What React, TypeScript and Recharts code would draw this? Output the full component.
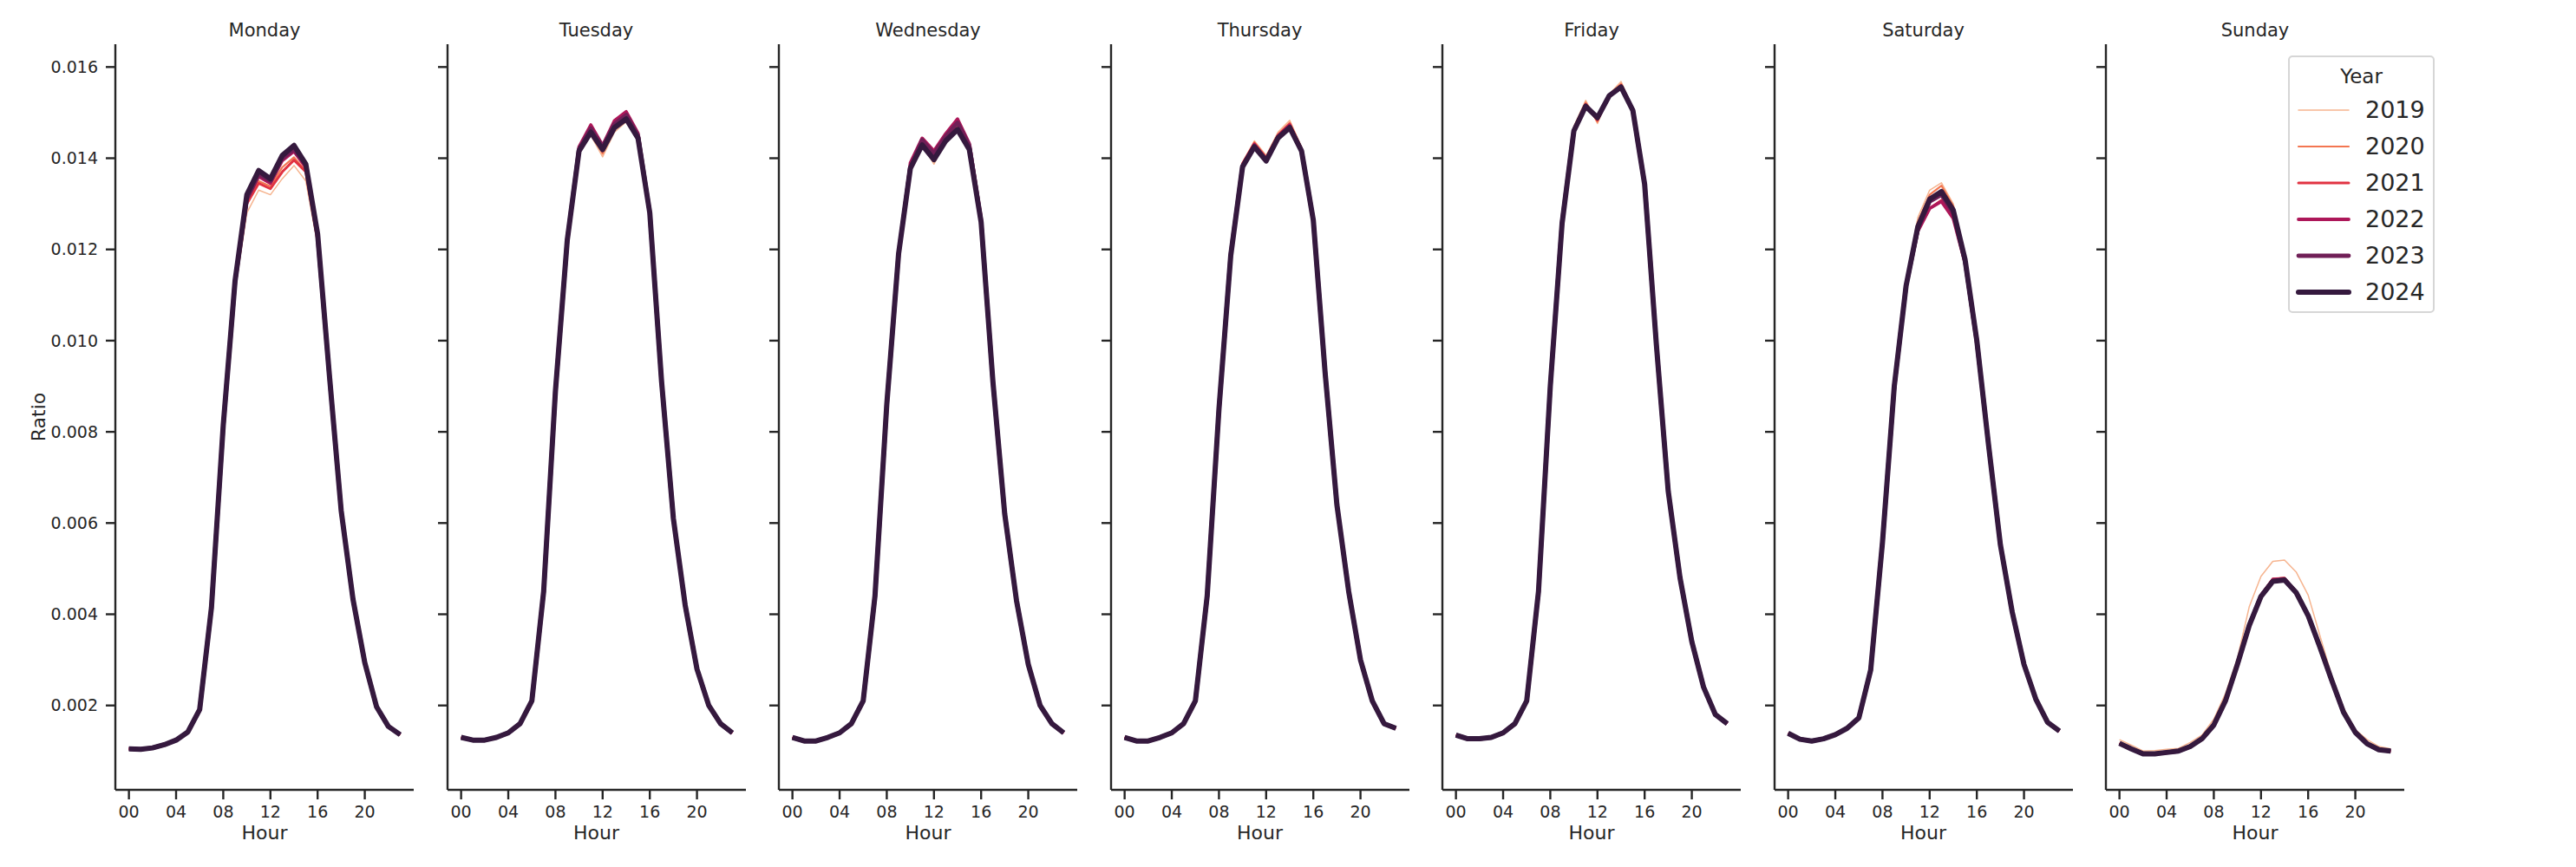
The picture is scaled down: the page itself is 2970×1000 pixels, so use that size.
import { LineChart, Line, XAxis, YAxis } from "recharts"

const YEARS = [2019, 2020, 2021, 2022, 2023, 2024]
const COLORS = ["#f6b48f", "#f37651", "#e13342", "#ad1759", "#701f57", "#35193e"]
const WIDTHS = [1.5, 2.2, 3, 3.8, 4.8, 6]
const DAYS = ["Monday", "Tuesday", "Wednesday", "Thursday", "Friday", "Saturday", "Sunday"]
const HOURS = [0, 1, 2, 3, 4, 5, 6, 7, 8, 9, 10, 11, 12, 13, 14, 15, 16, 17, 18, 19, 20, 21, 22, 23]
const X_TICKS = [0, 4, 8, 12, 16, 20]
const Y_TICKS = [0.002, 0.004, 0.006, 0.008, 0.01, 0.012, 0.014, 0.016]

// one row per year (2019 .. 2024), 24 hourly ratios each
const monday = [
  [0.00105, 0.00104, 0.00107, 0.00114, 0.00124, 0.00142, 0.00189, 0.0041, 0.008, 0.0111, 0.0128, 0.0133, 0.0132, 0.01355, 0.01384, 0.0135, 0.0121, 0.0091, 0.0062, 0.0043, 0.00292, 0.00196, 0.00153, 0.00135],
  [0.00105, 0.00104, 0.00107, 0.00114, 0.00124, 0.00142, 0.0019, 0.00412, 0.0081, 0.0112, 0.01302, 0.0135, 0.01338, 0.0138, 0.01402, 0.01372, 0.0122, 0.0092, 0.00624, 0.00432, 0.00293, 0.00197, 0.00154, 0.00136],
  [0.00105, 0.00104, 0.00107, 0.00114, 0.00124, 0.00142, 0.0019, 0.00412, 0.0081, 0.0112, 0.013, 0.01345, 0.01333, 0.0137, 0.01396, 0.0137, 0.0122, 0.0092, 0.00624, 0.00432, 0.00293, 0.00197, 0.00154, 0.00136],
  [0.00105, 0.00104, 0.00107, 0.00114, 0.00124, 0.00142, 0.00191, 0.00414, 0.00813, 0.0113, 0.0131, 0.0136, 0.01345, 0.01395, 0.01415, 0.0138, 0.0123, 0.00922, 0.00626, 0.00433, 0.00294, 0.00197, 0.00154, 0.00136],
  [0.00105, 0.00104, 0.00107, 0.00114, 0.00124, 0.00142, 0.00191, 0.00415, 0.00814, 0.0113, 0.0131, 0.01365, 0.0135, 0.014, 0.0142, 0.01385, 0.0123, 0.00923, 0.00627, 0.00433, 0.00294, 0.00197, 0.00154, 0.00136],
  [0.00105, 0.00104, 0.00107, 0.00114, 0.00124, 0.00142, 0.00191, 0.00415, 0.00815, 0.01131, 0.0132, 0.01373, 0.01355, 0.01406, 0.01428, 0.01387, 0.01234, 0.00924, 0.00627, 0.00433, 0.00294, 0.00197, 0.00154, 0.00136],
]

const tuesday = [
  [0.0013, 0.00124, 0.00124, 0.0013, 0.0014, 0.0016, 0.0021, 0.0045, 0.0088, 0.0121, 0.0141, 0.0145, 0.01403, 0.01457, 0.0148, 0.0144, 0.0127, 0.0091, 0.0061, 0.0042, 0.0028, 0.002, 0.0016, 0.0014],
  [0.0013, 0.00124, 0.00124, 0.0013, 0.0014, 0.0016, 0.0021, 0.0045, 0.0089, 0.0122, 0.0141, 0.0146, 0.0141, 0.0147, 0.0149, 0.0144, 0.0128, 0.0091, 0.0061, 0.0042, 0.0028, 0.002, 0.0016, 0.0014],
  [0.0013, 0.00124, 0.00124, 0.0013, 0.0014, 0.0016, 0.0021, 0.0045, 0.0089, 0.0122, 0.0142, 0.01465, 0.0142, 0.01475, 0.01495, 0.0145, 0.0128, 0.0091, 0.0061, 0.0042, 0.0028, 0.002, 0.0016, 0.0014],
  [0.0013, 0.00124, 0.00124, 0.0013, 0.0014, 0.0016, 0.0021, 0.0045, 0.0089, 0.0122, 0.01425, 0.01473, 0.01428, 0.01482, 0.01502, 0.01455, 0.0128, 0.0091, 0.0061, 0.0042, 0.0028, 0.002, 0.0016, 0.0014],
  [0.0013, 0.00124, 0.00124, 0.0013, 0.0014, 0.0016, 0.0021, 0.0045, 0.0089, 0.0122, 0.0142, 0.01465, 0.01425, 0.01475, 0.01495, 0.0145, 0.0128, 0.0091, 0.0061, 0.0042, 0.0028, 0.002, 0.0016, 0.0014],
  [0.0013, 0.00124, 0.00124, 0.0013, 0.0014, 0.0016, 0.0021, 0.0045, 0.0089, 0.0122, 0.01416, 0.01457, 0.01419, 0.01467, 0.01486, 0.01444, 0.0128, 0.0091, 0.0061, 0.0042, 0.0028, 0.002, 0.0016, 0.0014],
]

const wednesday = [
  [0.0013, 0.00122, 0.00122, 0.0013, 0.0014, 0.0016, 0.0021, 0.0044, 0.0086, 0.0119, 0.01375, 0.0143, 0.01387, 0.0144, 0.01465, 0.0142, 0.0126, 0.0091, 0.0062, 0.0043, 0.0029, 0.002, 0.0016, 0.0014],
  [0.0013, 0.00122, 0.00122, 0.0013, 0.0014, 0.0016, 0.0021, 0.0044, 0.0086, 0.0119, 0.0138, 0.01435, 0.01395, 0.01445, 0.0147, 0.01425, 0.0126, 0.0091, 0.0062, 0.0043, 0.0029, 0.002, 0.0016, 0.0014],
  [0.0013, 0.00122, 0.00122, 0.0013, 0.0014, 0.0016, 0.0021, 0.0044, 0.0086, 0.0119, 0.01385, 0.0144, 0.0141, 0.0145, 0.0148, 0.0143, 0.0126, 0.0091, 0.0062, 0.0043, 0.0029, 0.002, 0.0016, 0.0014],
  [0.0013, 0.00122, 0.00122, 0.0013, 0.0014, 0.0016, 0.0021, 0.0044, 0.0086, 0.0119, 0.0139, 0.01444, 0.01416, 0.01454, 0.01486, 0.01432, 0.0127, 0.0091, 0.0062, 0.0043, 0.0029, 0.002, 0.0016, 0.0014],
  [0.0013, 0.00122, 0.00122, 0.0013, 0.0014, 0.0016, 0.0021, 0.0044, 0.0086, 0.0119, 0.0138, 0.0144, 0.0141, 0.01448, 0.01478, 0.01428, 0.0126, 0.0091, 0.0062, 0.0043, 0.0029, 0.002, 0.0016, 0.0014],
  [0.0013, 0.00122, 0.00122, 0.0013, 0.0014, 0.0016, 0.0021, 0.0044, 0.0086, 0.0119, 0.01378, 0.01429, 0.01397, 0.01438, 0.01463, 0.01419, 0.0126, 0.0091, 0.0062, 0.0043, 0.0029, 0.002, 0.0016, 0.0014],
]

const thursday = [
  [0.0013, 0.00122, 0.00122, 0.0013, 0.0014, 0.0016, 0.0021, 0.0044, 0.0085, 0.0119, 0.0139, 0.01438, 0.01406, 0.01457, 0.01483, 0.01425, 0.0127, 0.0093, 0.0064, 0.0045, 0.003, 0.0021, 0.0016, 0.0015],
  [0.0013, 0.00122, 0.00122, 0.0013, 0.0014, 0.0016, 0.0021, 0.0044, 0.0085, 0.0119, 0.0139, 0.01435, 0.01403, 0.01452, 0.01478, 0.01422, 0.0127, 0.0093, 0.0064, 0.0045, 0.003, 0.0021, 0.0016, 0.0015],
  [0.0013, 0.00122, 0.00122, 0.0013, 0.0014, 0.0016, 0.0021, 0.0044, 0.0085, 0.0119, 0.01388, 0.01432, 0.014, 0.0145, 0.01475, 0.0142, 0.01266, 0.0093, 0.0064, 0.0045, 0.003, 0.0021, 0.0016, 0.0015],
  [0.0013, 0.00122, 0.00122, 0.0013, 0.0014, 0.0016, 0.0021, 0.0044, 0.0085, 0.0119, 0.01385, 0.0143, 0.01398, 0.01448, 0.01472, 0.01418, 0.01265, 0.0093, 0.0064, 0.0045, 0.003, 0.0021, 0.0016, 0.0015],
  [0.0013, 0.00122, 0.00122, 0.0013, 0.0014, 0.0016, 0.0021, 0.0044, 0.0085, 0.0119, 0.01383, 0.01427, 0.01396, 0.01446, 0.01469, 0.01417, 0.01264, 0.0093, 0.0064, 0.0045, 0.003, 0.0021, 0.0016, 0.0015],
  [0.0013, 0.00122, 0.00122, 0.0013, 0.0014, 0.0016, 0.0021, 0.0044, 0.0085, 0.01187, 0.01381, 0.01425, 0.01394, 0.01444, 0.01467, 0.01416, 0.01264, 0.0093, 0.0064, 0.0045, 0.003, 0.0021, 0.0016, 0.0015],
]

const friday = [
  [0.00135, 0.00127, 0.00127, 0.0013, 0.0014, 0.0016, 0.0021, 0.0045, 0.009, 0.0126, 0.0147, 0.01527, 0.01476, 0.0154, 0.01568, 0.0151, 0.0135, 0.0099, 0.0067, 0.0048, 0.0034, 0.0024, 0.0018, 0.0016],
  [0.00135, 0.00127, 0.00127, 0.0013, 0.0014, 0.0016, 0.0021, 0.0045, 0.009, 0.0126, 0.01465, 0.01522, 0.0148, 0.01538, 0.01563, 0.01508, 0.0135, 0.0099, 0.0067, 0.0048, 0.0034, 0.0024, 0.0018, 0.0016],
  [0.00135, 0.00127, 0.00127, 0.0013, 0.0014, 0.0016, 0.0021, 0.0045, 0.009, 0.0126, 0.01462, 0.01518, 0.01484, 0.01536, 0.0156, 0.01506, 0.01345, 0.0099, 0.0067, 0.0048, 0.0034, 0.0024, 0.0018, 0.0016],
  [0.00135, 0.00127, 0.00127, 0.0013, 0.0014, 0.0016, 0.0021, 0.0045, 0.009, 0.0126, 0.01462, 0.01516, 0.01486, 0.01537, 0.01558, 0.01506, 0.01344, 0.0099, 0.0067, 0.0048, 0.0034, 0.0024, 0.0018, 0.0016],
  [0.00135, 0.00127, 0.00127, 0.0013, 0.0014, 0.0016, 0.0021, 0.0045, 0.009, 0.0126, 0.01461, 0.01515, 0.01488, 0.01537, 0.01557, 0.01505, 0.01343, 0.0099, 0.0067, 0.0048, 0.0034, 0.0024, 0.0018, 0.0016],
  [0.00135, 0.00127, 0.00127, 0.0013, 0.0014, 0.0016, 0.0021, 0.0045, 0.009, 0.01257, 0.0146, 0.01514, 0.01489, 0.01537, 0.01556, 0.01505, 0.01343, 0.0099, 0.0067, 0.0048, 0.0034, 0.0024, 0.0018, 0.0016],
]

const saturday = [
  [0.00139, 0.00126, 0.00122, 0.00127, 0.00136, 0.0015, 0.00173, 0.00278, 0.00558, 0.009, 0.0113, 0.0127, 0.0133, 0.01346, 0.013, 0.0119, 0.0101, 0.0078, 0.00555, 0.00407, 0.0029, 0.00214, 0.00163, 0.00144],
  [0.00139, 0.00126, 0.00122, 0.00127, 0.00136, 0.0015, 0.00173, 0.00278, 0.00558, 0.009, 0.0113, 0.0126, 0.0132, 0.0134, 0.01295, 0.01185, 0.01005, 0.0077, 0.00553, 0.00406, 0.0029, 0.00214, 0.00163, 0.00144],
  [0.00139, 0.00126, 0.00122, 0.00127, 0.00136, 0.0015, 0.00173, 0.00278, 0.00556, 0.0089, 0.0112, 0.0124, 0.0129, 0.01308, 0.0127, 0.0117, 0.0099, 0.0077, 0.00552, 0.00405, 0.0029, 0.00214, 0.00163, 0.00144],
  [0.00139, 0.00126, 0.00122, 0.00127, 0.00136, 0.0015, 0.00173, 0.00278, 0.00556, 0.0089, 0.0112, 0.0124, 0.0129, 0.01305, 0.01268, 0.0117, 0.0099, 0.0077, 0.00552, 0.00405, 0.0029, 0.00214, 0.00163, 0.00144],
  [0.00139, 0.00126, 0.00122, 0.00127, 0.00136, 0.0015, 0.00173, 0.00278, 0.00558, 0.009, 0.0112, 0.01245, 0.01305, 0.0132, 0.0128, 0.01175, 0.01, 0.0077, 0.00552, 0.00405, 0.0029, 0.00214, 0.00163, 0.00144],
  [0.00139, 0.00126, 0.00122, 0.00127, 0.00136, 0.0015, 0.00173, 0.00278, 0.00558, 0.009, 0.0112, 0.0125, 0.0131, 0.01327, 0.01286, 0.01178, 0.01, 0.0077, 0.00552, 0.00405, 0.0029, 0.00214, 0.00163, 0.00144],
]

const sunday = [
  [0.00125, 0.00113, 0.001, 0.00101, 0.00104, 0.00106, 0.00119, 0.00135, 0.0017, 0.00227, 0.00303, 0.00416, 0.00483, 0.00516, 0.00519, 0.00492, 0.00442, 0.00353, 0.00265, 0.00195, 0.00147, 0.00125, 0.0011, 0.00105],
  [0.00118, 0.00106, 0.00095, 0.00095, 0.00098, 0.00101, 0.00111, 0.00129, 0.0016, 0.00215, 0.00293, 0.0038, 0.00443, 0.00478, 0.0048, 0.0045, 0.004, 0.0033, 0.00257, 0.00187, 0.00142, 0.00117, 0.00104, 0.00101],
  [0.00117, 0.00105, 0.00094, 0.00094, 0.00097, 0.001, 0.0011, 0.00128, 0.00158, 0.00213, 0.00292, 0.00378, 0.00442, 0.00477, 0.00479, 0.00449, 0.00398, 0.00329, 0.00256, 0.00186, 0.00141, 0.00116, 0.00103, 0.001],
  [0.00117, 0.00105, 0.00094, 0.00094, 0.00097, 0.001, 0.0011, 0.00128, 0.00158, 0.00212, 0.00291, 0.00377, 0.00441, 0.00476, 0.00478, 0.00448, 0.00398, 0.00329, 0.00256, 0.00186, 0.00141, 0.00116, 0.00103, 0.001],
  [0.00117, 0.00105, 0.00094, 0.00094, 0.00097, 0.001, 0.0011, 0.00127, 0.00157, 0.00211, 0.0029, 0.00376, 0.0044, 0.00473, 0.00476, 0.00447, 0.00397, 0.00328, 0.00255, 0.00185, 0.00141, 0.00116, 0.00103, 0.001],
  [0.00117, 0.00105, 0.00094, 0.00094, 0.00097, 0.001, 0.0011, 0.00127, 0.00157, 0.00211, 0.0029, 0.00375, 0.00439, 0.00472, 0.00475, 0.00447, 0.00397, 0.00328, 0.00255, 0.00185, 0.00141, 0.00116, 0.00103, 0.001],
]

const SERIES = [monday, tuesday, wednesday, thursday, friday, saturday, sunday]

const INK = "#262626"
const FONT = "'DejaVu Sans', sans-serif"
const PLOT_W = 344
const FIRST_SPINE = 133
const STEP = 382.5

function Panel({ index }: { index: number }) {
  const series = SERIES[index]
  const rows = HOURS.map((h, i) => {
    const r: Record<string, number> = { hour: h }
    YEARS.forEach((y, k) => { r["y" + y] = series[k][i] })
    return r
  })
  const first = index === 0
  const axisW = first ? FIRST_SPINE : 80
  const spine = FIRST_SPINE + index * STEP
  const left = spine - axisW
  const axisStyle = { stroke: INK, strokeWidth: 2.4 }

  return (
    <div style={{ position: "absolute", left, top: 0 }}>
      <LineChart width={axisW + PLOT_W} height={1000} data={rows} margin={{ top: 51, right: 0, bottom: 29, left: 0 }}>
        <XAxis
          type="number"
          dataKey="hour"
          domain={[-1.15, 24.15]}
          ticks={X_TICKS}
          interval={0}
          allowDataOverflow
          height={60}
          tickSize={11}
          tickMargin={8}
          tickFormatter={(h: number) => String(h).padStart(2, "0")}
          tick={{ fontSize: 19, fill: INK, fontFamily: FONT }}
          axisLine={axisStyle}
          tickLine={axisStyle}
        />
        <YAxis
          type="number"
          domain={[0.00015, 0.0165]}
          ticks={Y_TICKS}
          interval={0}
          allowDataOverflow
          width={axisW}
          tickSize={11}
          tickMargin={9}
          tickFormatter={(v: number) => (first ? v.toFixed(3) : "")}
          tick={{ fontSize: 19, fill: INK, fontFamily: FONT }}
          axisLine={axisStyle}
          tickLine={axisStyle}
        />
        {YEARS.map((y, k) => (
          <Line
            key={y}
            type="linear"
            dataKey={"y" + y}
            stroke={COLORS[k]}
            strokeWidth={WIDTHS[k]}
            strokeLinejoin="round"
            dot={false}
            activeDot={false}
            isAnimationActive={false}
          />
        ))}
      </LineChart>
      <div style={{ position: "absolute", left: axisW, width: PLOT_W, top: 22, textAlign: "center", fontSize: 21, color: INK, fontFamily: FONT, lineHeight: "26px" }}>
        {DAYS[index]}
      </div>
      <div style={{ position: "absolute", left: axisW, width: PLOT_W, top: 947, textAlign: "center", fontSize: 22, color: INK, fontFamily: FONT, lineHeight: "28px" }}>
        Hour
      </div>
    </div>
  )
}

function YearLegend() {
  return (
    <div style={{ position: "absolute", left: 2638, top: 64, width: 165, height: 293, border: "2px solid #d6d6d6", borderRadius: 5, background: "#fff", fontFamily: FONT, color: INK }}>
      <div style={{ position: "absolute", left: 0, right: 0, top: 8, textAlign: "center", fontSize: 23, lineHeight: "28px" }}>Year</div>
      {YEARS.map((y, k) => (
        <div key={y} style={{ position: "absolute", left: 0, top: 44 + k * 42, height: 34, width: 165 }}>
          <svg width={80} height={34} style={{ position: "absolute", left: 0, top: 0 }}>
            <line x1={10} x2={68} y1={17} y2={17} stroke={COLORS[k]} strokeWidth={WIDTHS[k]} strokeLinecap="round" />
          </svg>
          <span style={{ position: "absolute", left: 87, top: 0, fontSize: 27, lineHeight: "34px" }}>{y}</span>
        </div>
      ))}
    </div>
  )
}

export default function App() {
  return (
    <div style={{ position: "absolute", left: 0, top: 0, width: 2970, height: 1000, background: "#fff" }}>
      {DAYS.map((d, i) => <Panel key={d} index={i} />)}
      <div style={{ position: "absolute", left: 45 - 40, top: 481 - 14, width: 80, height: 28, textAlign: "center", transform: "rotate(-90deg)", fontSize: 22, lineHeight: "28px", color: INK, fontFamily: FONT }}>
        Ratio
      </div>
      <YearLegend />
    </div>
  )
}
